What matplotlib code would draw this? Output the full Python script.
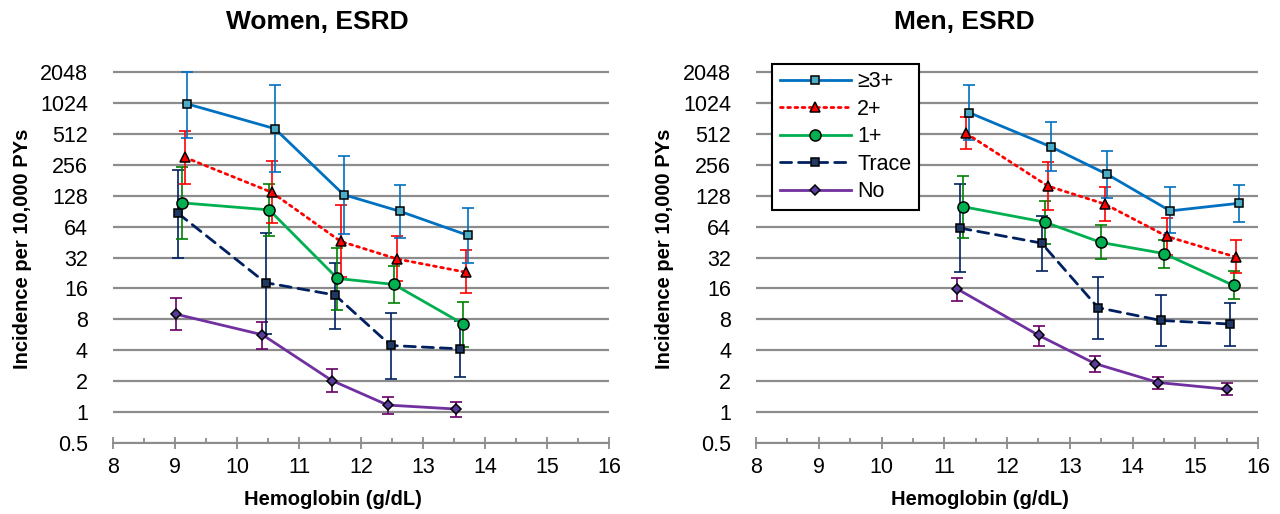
import numpy as np
import matplotlib
matplotlib.use('Agg')
import matplotlib.pyplot as plt
from matplotlib.ticker import FixedLocator, FuncFormatter, MultipleLocator

plt.rcParams['font.family'] = ['Liberation Sans', 'DejaVu Sans']

# series names (legend order)
series = ['\u22653+', '2+', '1+', 'Trace', 'No']

# ---- Women, ESRD: hemoglobin, incidence, lower/upper CI ----
w_hb = {
    '\u22653+': [9.20, 10.61, 11.72, 12.63, 13.73],
    '2+':       [9.16, 10.56, 11.67, 12.58, 13.69],
    '1+':       [9.11, 10.52, 11.62, 12.53, 13.65],
    'Trace':    [9.05, 10.46, 11.58, 12.48, 13.59],
    'No':       [9.01, 10.41, 11.53, 12.43, 13.54],
}
w_val = {
    '\u22653+': [1000, 575, 131, 90, 52.5],
    '2+':       [302, 138, 46, 31, 23],
    '1+':       [109, 93, 20, 17.5, 7.2],
    'Trace':    [86, 18.2, 13.8, 4.45, 4.13],
    'No':       [9.0, 5.66, 2.03, 1.17, 1.07],
}
w_lo = {
    '\u22653+': [469, 216, 54, 49.6, 28],
    '2+':       [166, 68.7, 20.6, 19.1, 14.5],
    '1+':       [48.8, 51.3, 9.9, 11.5, 4.35],
    'Trace':    [31.8, 5.8, 6.5, 2.09, 2.22],
    'No':       [6.3, 4.1, 1.57, 0.96, 0.9],
}
w_hi = {
    '\u22653+': [2048, 1530, 311, 162, 97],
    '2+':       [549, 276, 103, 51.3, 37.5],
    '1+':       [243, 167, 40, 26.4, 11.7],
    'Trace':    [226, 56, 28.6, 9.2, 7.7],
    'No':       [12.8, 7.6, 2.6, 1.4, 1.26],
}

# ---- Men, ESRD ----
m_hb = {
    '\u22653+': [11.40, 12.70, 13.60, 14.60, 15.70],
    '2+':       [11.35, 12.65, 13.56, 14.55, 15.65],
    '1+':       [11.30, 12.60, 13.50, 14.50, 15.61],
    'Trace':    [11.25, 12.55, 13.45, 14.45, 15.55],
    'No':       [11.20, 12.51, 13.40, 14.41, 15.50],
}
m_val = {
    '\u22653+': [822, 383, 206, 91, 108],
    '2+':       [517, 159, 106, 51.3, 32.3],
    '1+':       [100, 70.8, 44.8, 35, 17.1],
    'Trace':    [61.9, 44.2, 10.4, 7.8, 7.2],
    'No':       [15.9, 5.57, 2.97, 1.94, 1.67],
}
m_lo = {
    '\u22653+': [449, 221, 121, 55, 71],
    '2+':       [364, 93, 73, 34, 22.6],
    '1+':       [49, 43.5, 30.6, 25.4, 12.5],
    'Trace':    [23.2, 23.6, 5.2, 4.4, 4.4],
    'No':       [12.2, 4.39, 2.48, 1.67, 1.46],
}
m_hi = {
    '\u22653+': [1530, 662, 345, 156, 163],
    '2+':       [746, 272, 156, 77.6, 47.6],
    '1+':       [197, 114, 65.8, 47.6, 23.8],
    'Trace':    [165, 82, 20.6, 13.7, 11.5],
    'No':       [20.4, 6.96, 3.5, 2.22, 1.9],
}

yticks = 2.0 ** np.arange(-1, 12)

styles = {
    '\u22653+': dict(color='#0070C0', ls='-', marker='s', ms=5.5, mfc='#4BACC6', ecol='#0070C0'),
    '2+':       dict(color='#FF0000', ls=(0, (1, 1.6)), marker='^', ms=7.5, mfc='#FF0000', ecol='#FF0000'),
    '1+':       dict(color='#00B050', ls='-', marker='o', ms=8, mfc='#00B050', ecol='#008000'),
    'Trace':    dict(color='#002060', ls=(0, (4, 2.5)), marker='s', ms=5.5, mfc='#1F3864', ecol='#002060'),
    'No':       dict(color='#7030A0', ls='-', marker='D', ms=5.5, mfc='#5B3C9C', ecol='#660066'),
}

fig = plt.figure(figsize=(12.8, 5.14), dpi=100)
W, H = 1280, 514
top_pad = 0.05 * 30.9
ax_w = fig.add_axes([113 / W, 71 / H, 496 / W, (371 + top_pad) / H])
ax_m = fig.add_axes([756 / W, 71 / H, 502 / W, (371 + top_pad) / H])


def draw(ax, hb, val, lo, hi, title, tx, lx):
    for name in reversed(series):
        st = styles[name]
        x = np.array(hb[name])
        y = np.array(val[name])
        err = [y - np.array(lo[name]), np.array(hi[name]) - y]
        ax.errorbar(x, y, yerr=err, fmt='none', ecolor=st['ecol'], elinewidth=1.2,
                    capsize=4, capthick=1.2, zorder=3)
    for name in reversed(series):
        st = styles[name]
        ax.plot(hb[name], val[name], color=st['color'], ls=st['ls'], lw=2,
                marker=st['marker'], ms=st['ms'], mfc=st['mfc'], mec='black',
                mew=1.1, label=name, zorder=4, dash_capstyle='round')
    ax.set_yscale('log', base=2)
    ax.set_ylim(0.5, 2048 * 2 ** 0.05)
    ax.set_xlim(8, 16)
    ax.yaxis.set_major_locator(FixedLocator(yticks))
    ax.yaxis.set_minor_locator(FixedLocator([]))
    ax.yaxis.set_major_formatter(FuncFormatter(lambda v, p: '0.5' if v < 1 else '%d' % v))
    ax.xaxis.set_major_locator(MultipleLocator(1))
    ax.xaxis.set_minor_locator(MultipleLocator(0.5))
    ax.grid(axis='y', color='#8C8C8C', lw=1.6, zorder=0)
    ax.set_axisbelow(True)
    for s in ['top', 'right', 'left']:
        ax.spines[s].set_visible(False)
    ax.spines['bottom'].set_color('#8C8C8C')
    ax.spines['bottom'].set_linewidth(1.5)
    ax.tick_params(axis='y', length=0, labelsize=15.5, pad=18)
    ax.tick_params(axis='x', which='major', direction='inout', length=8, width=1.3,
                   color='#8C8C8C', labelsize=15.5, pad=6)
    ax.tick_params(axis='x', which='minor', direction='in', length=3.5, width=1.3,
                   color='#8C8C8C')
    ax.set_xlabel('Hemoglobin (g/dL)', fontsize=14.5, fontweight='bold', va='center')
    ax.xaxis.set_label_coords(lx, -0.152)
    ax.set_ylabel('Incidence per 10,000 PYs', fontsize=14.5, fontweight='bold', va='center')
    ax.yaxis.set_label_coords(-0.183, 0.52)
    ax.text(tx, 1.13, title, transform=ax.transAxes, ha='center', va='center',
            fontsize=19, fontweight='bold')


draw(ax_w, w_hb, w_val, w_lo, w_hi, 'Women, ESRD', 0.411, 0.4435)
draw(ax_m, m_hb, m_val, m_lo, m_hi, 'Men, ESRD', 0.414, 0.446)

handles, labels = ax_m.get_legend_handles_labels()
leg = ax_m.legend(handles[::-1], labels[::-1], loc='upper left',
                  bbox_to_anchor=(0.032, 1.018), borderaxespad=0, fontsize=15.5,
                  handlelength=3.3, handletextpad=0.3, labelspacing=0.3,
                  borderpad=0.35, fancybox=False, framealpha=1, edgecolor='black')
leg.get_frame().set_linewidth(1.5)

fig.savefig('out.png', dpi=100)
